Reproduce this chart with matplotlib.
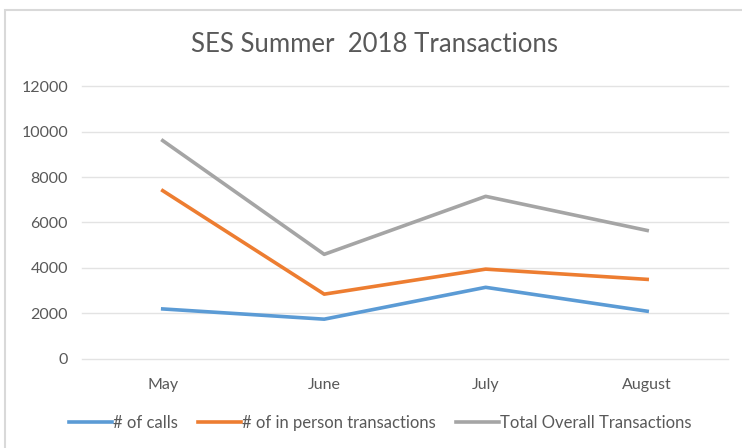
import matplotlib.pyplot as plt
from matplotlib.patches import Rectangle

plt.rcParams['font.family'] = ['Lato', 'DejaVu Sans']

months = ['May', 'June', 'July', 'August']
calls = [2200, 1750, 3150, 2100]
in_person = [7400, 2850, 3950, 3500]
total = [9600, 4600, 7150, 5650]

fig = plt.figure(figsize=(7.42, 4.48), dpi=100)
fig.patches.append(Rectangle((0.007, -0.1), 1.2, 1.078, transform=fig.transFigure,
                             fill=False, edgecolor='#d9d9d9', linewidth=1.5))
ax = fig.add_axes([0.1105, 0.1987, 0.8705, 0.6093])

x = range(len(months))
ax.plot(x, calls, color='#5B9BD5', lw=2.6, label='# of calls')
ax.plot(x, in_person, color='#ED7D31', lw=2.6, label='# of in person transactions')
ax.plot(x, total, color='#A5A5A5', lw=2.6, label='Total Overall Transactions')

ax.set_xlim(-0.5, 3.5)
ax.set_ylim(0, 12000)
ax.set_yticks(range(0, 12001, 2000))
ax.set_xticks(list(x))
ax.set_xticklabels(months)
ax.grid(axis='y', color='#e3e3e3', lw=1)
for gl in ax.get_ygridlines():
    gl.set_clip_on(False)
ax.set_axisbelow(True)
for s in ax.spines.values():
    s.set_visible(False)
ax.tick_params(length=0, labelsize=11.5, labelcolor='#595959', pad=10)
ax.tick_params(axis='x', pad=14)

fig.text(0.505, 0.9, 'SES Summer  2018 Transactions', ha='center', va='center',
         fontsize=18.5, color='#595959')
ax.legend(loc='center', bbox_to_anchor=(0.462, -0.234), ncol=3, frameon=False,
          fontsize=12, labelcolor='#595959', handlelength=2.6, handletextpad=0.05,
          columnspacing=1.2)

fig.savefig('out.png', dpi=100)
